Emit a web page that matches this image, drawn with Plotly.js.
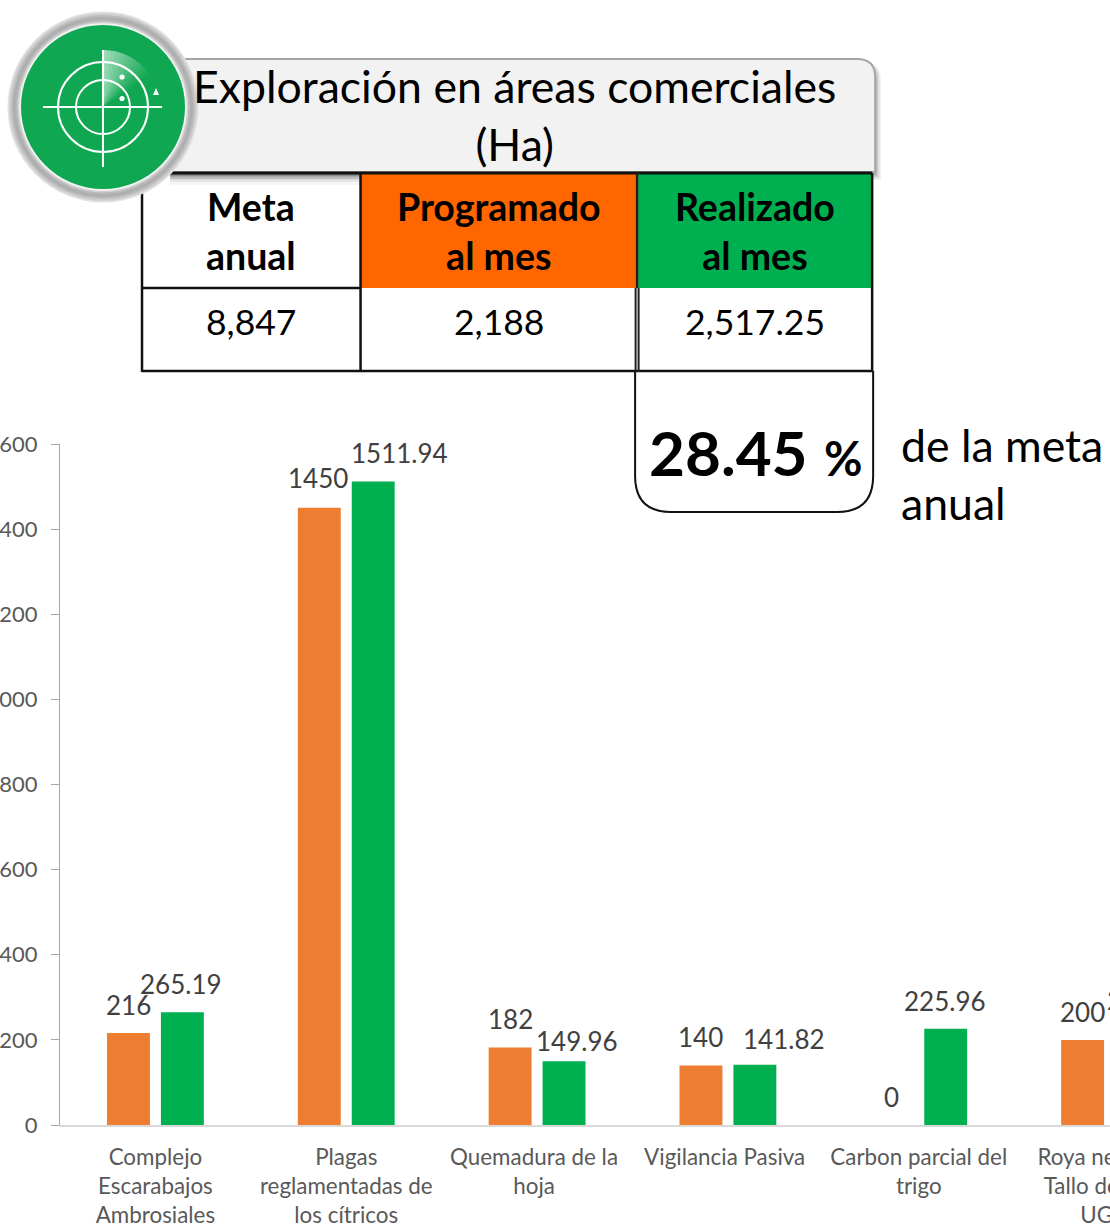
<!DOCTYPE html>
<html><head><meta charset="utf-8">
<script src="https://cdn.plot.ly/plotly-3.0.0.min.js"></script>
<style>html,body{margin:0;padding:0;background:#fff;overflow:hidden}
#frame{position:relative;width:1110px;height:1231px;overflow:hidden}
#c{position:absolute;left:-40px;top:0}</style>
</head><body><div id="frame"><div id="c"></div></div>
<script>
// ---------- data ----------
const categories = [
  "Complejo<br>Escarabajos<br>Ambrosiales",
  "Plagas<br>reglamentadas de<br>los cítricos",
  "Quemadura de la<br>hoja",
  "Vigilancia Pasiva",
  "Carbon parcial del<br>trigo",
  "Roya negra del<br>Tallo del trigo<br>UG99"
];
const programado = [216, 1450, 182, 140, 0, 200];
const realizado  = [265.19, 1511.94, 149.96, 141.82, 225.96, 228];
const yTicks = [0, 200, 400, 600, 800, 1000, 1200, 1400, 1600];
const tableHeaders = ["Meta<br>anual", "Programado<br>al mes", "Realizado<br>al mes"];
const tableValues = ["8,847", "2,188", "2,517.25"];
const titleText = "Exploración en áreas comerciales<br>(Ha)";
const percentText = "28.45";
const percentNote = "de la meta<br>anual";

// ---------- label placement (the reference nudges some labels by hand) ----------
const greenNudge = [[-1,0],[26,0],[13,-8],[29,-2],[-1,0],[-7,0]];
const orangeNudge = [[0,0],[-1,2],[0,1],[0,0],[0,0],[0,0]];
const tickShift = [0,0,-0.016,-0.017,0,0];

// ---------- page geometry (the frame crops the chart left and right, as the reference does) ----------
const CUT=40,STEP=190.8,N=categories.length;
const H=1231,L=60,T=444,B=1125,R=L+STEP*N;
const X=p=>(p-L)/(R-L), Y=p=>(B-p)/(B-T);
const FONT='Lato, Carlito, Calibri, sans-serif';
const shapes=[];
const rect=(x0,y0,x1,y1,fill,op)=>shapes.push({type:'rect',xref:'paper',yref:'paper',layer:'above',x0:X(x0),x1:X(x1),y0:Y(y0),y1:Y(y1),fillcolor:fill,opacity:op==null?1:op,line:{width:0}});
const line=(x0,y0,x1,y1,c,w)=>shapes.push({type:'line',xref:'paper',yref:'paper',layer:'above',x0:X(x0),x1:X(x1),y0:Y(y0),y1:Y(y1),line:{color:c,width:w}});
const circ=(cx,cy,r,fill,stroke,sw,op)=>shapes.push({type:'circle',xref:'paper',yref:'paper',layer:'above',x0:X(cx-r),x1:X(cx+r),y0:Y(cy-r),y1:Y(cy+r),fillcolor:fill||'rgba(0,0,0,0)',opacity:op==null?1:op,line:{color:stroke||'rgba(0,0,0,0)',width:sw||0}});
const path=(pts,fill,stroke,sw,op)=>shapes.push({type:'path',xref:'paper',yref:'paper',layer:'above',path:pts,fillcolor:fill||'rgba(0,0,0,0)',opacity:op==null?1:op,line:{color:stroke||'rgba(0,0,0,0)',width:sw||0}});
const pt=(x,y)=>X(x)+','+Y(y);
const boxPath=(x0,y0,x1,y1,r)=>`M${pt(x0,y0)} L${pt(x1-r,y0)} Q${pt(x1,y0)} ${pt(x1,y0+r)} L${pt(x1,y1)} L${pt(x0,y1)} Z`;

// title box with soft shadow
[[6,.05],[4.5,.07],[3,.09],[1.5,.12]].forEach(([d,o])=>{
  path(boxPath(170,62,875+d,172+d+2,18),'#000',null,0,o);
});
[[11,.04],[8,.06],[5,.08],[2,.1]].forEach(([d,o])=>rect(170,172,360,174+d,'#000',o));
path(boxPath(170,59,875,172,18),'#f2f2f2','#a6a6a6',2);

// table
rect(361,173,636,288,'#FF6600');
rect(638,173,872,288,'#00B050');
line(142,173,872,173,'#111',3);
line(142,288,361,288,'#111',2.5);
line(142,371,872,371,'#111',2.5);
line(142,173,142,372,'#111',2.5);
line(360.5,173,360.5,372,'#111',2.5);
line(637,173,637,288,'#222',2.5);
line(635.5,288,635.5,372,'#222',2);
line(638.5,288,638.5,372,'#222',2);
line(872,173,872,372,'#111',2.5);
// callout
path(`M${pt(635,371)} L${pt(635,476)} Q${pt(635,512)} ${pt(671,512)} L${pt(837,512)} Q${pt(873,512)} ${pt(873,476)} L${pt(873,371)}`,null,'#111',2);

// radar badge
const cx=103,cy=107;
circ(cx,cy,95.5,'#e2e2e2'); circ(cx,cy,94,'#cfcfcf'); circ(cx,cy,92,'#bcbcbc'); circ(cx,cy,90,'#aeaeae');
circ(cx,cy,87.5,'#b8b8b8'); circ(cx,cy,85.5,'#d2d2d2'); circ(cx,cy,83.8,'#f4f4f4'); circ(cx,cy,82,'#0FA751');
// sweep wedge, fading clockwise
for(let i=0;i<12;i++){
  const a0=i*4.5*Math.PI/180,a1=(i+1)*4.5*Math.PI/180,rr=57;
  const s=(a,r)=>pt(cx+r*Math.sin(a),cy-r*Math.cos(a));
  path(`M${pt(cx,cy)} L${s(a0,rr)} L${s((a0+a1)/2,rr)} L${s(a1,rr)} Z`,'#fff',null,0,.6*(1-i/12));
}
circ(cx,cy,45,null,'#fff',2); circ(cx,cy,27,null,'#fff',2);
line(43,cy,162,cy,'#fff',2); line(cx,50,cx,167,'#fff',2);
circ(122,77,2.6,'#fff'); circ(122,98.5,2.6,'#fff');
path(`M${pt(156,88)} L${pt(159,95)} L${pt(153,95)} Z`,'#fff');

// text
const anns=[];
const txt=(x,y,t,size,opt={})=>anns.push(Object.assign({xref:'paper',yref:'paper',x:X(x),y:Y(y),text:t,showarrow:false,xanchor:'center',yanchor:'middle',font:{family:FONT,size:size,color:'#000'}},opt));
txt(514,114,titleText,44.6);
[251,499,755].forEach((x,i)=>{
  txt(x,231,'<b>'+tableHeaders[i]+'</b>',37.5);
  txt(i==2?754.5:x,321.5,tableValues[i],35.5);
});
txt(728.5,451.5,'<b>'+percentText+'</b>',62);
txt(843,458,'<b>%</b>',47);
txt(899,473,percentNote,44.6,{xanchor:'left',align:'left'});

// data labels come from the values through the axis scales
const SLOT=27, LIFT=28;
function labels(vals,side,nudge){
  vals.forEach((v,i)=>{
    anns.push({xref:'x',yref:'y',x:i,y:v,text:String(v),showarrow:false,xanchor:'center',yanchor:'middle',
      xshift:side*SLOT+nudge[i][0],yshift:LIFT+nudge[i][1],
      font:{family:FONT,size:26,color:'#404040'}});
  });
}
labels(programado,-1,orangeNudge);
labels(realizado,1,greenNudge);

const idx=categories.map((_,i)=>i);
Plotly.newPlot('c',[
 {type:'bar',name:'Programado',x:idx,y:programado,marker:{color:'#ED7D31',line:{width:0}},hoverinfo:'skip'},
 {type:'bar',name:'Realizado',x:idx,y:realizado,marker:{color:'#00B050',line:{width:0}},hoverinfo:'skip'}
],{
 width:CUT+R,height:H,autosize:false,showlegend:false,
 margin:{l:CUT+L,r:0,t:T,b:H-B,pad:0},
 paper_bgcolor:'#fff',plot_bgcolor:'#fff',
 barmode:'group',bargap:0.435,bargroupgap:0.204,
 xaxis:{range:[-0.5,N-0.5],tickmode:'array',tickvals:idx.map(i=>i+tickShift[i]),ticktext:categories,ticks:'',showgrid:false,zeroline:false,showline:true,linecolor:'#d9d9d9',linewidth:2,
   tickangle:0,ticklabelstandoff:11,tickfont:{family:FONT,size:22.4,color:'#595959'},automargin:false},
 yaxis:{range:[0,1600],tickmode:'array',tickvals:yTicks,ticktext:yTicks.map(String),ticks:'outside',ticklen:8,tickcolor:'#a6a6a6',tickwidth:1,showgrid:false,zeroline:false,showline:true,linecolor:'#a6a6a6',linewidth:1,
   ticklabelstandoff:9,tickfont:{family:FONT,size:22,color:'#595959'},automargin:false},
 shapes:shapes,annotations:anns
},{displayModeBar:false,staticPlot:true});
</script></body></html>
